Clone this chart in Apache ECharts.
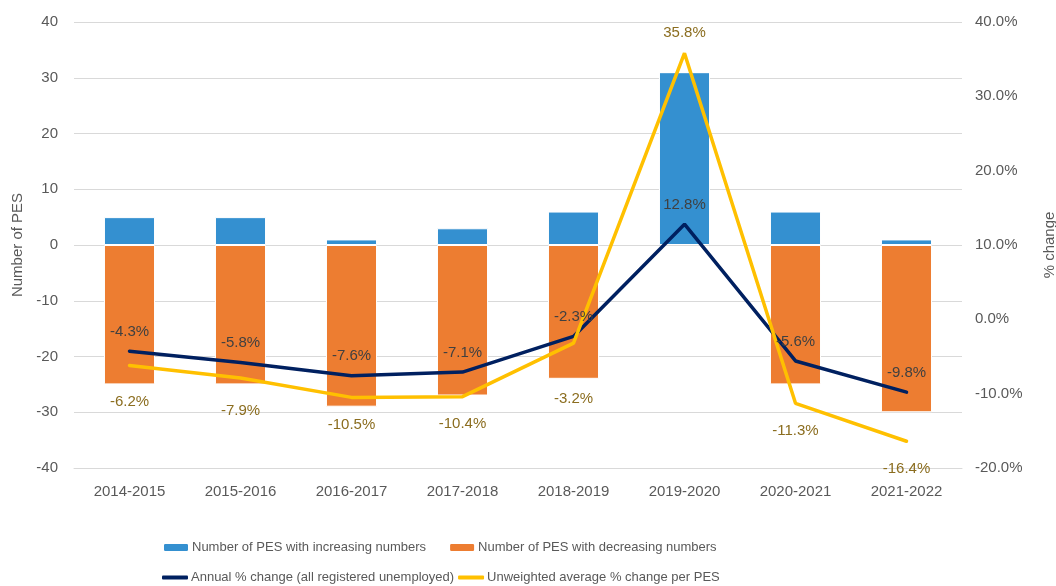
<!DOCTYPE html>
<html>
<head>
	<meta charset="utf-8" />
	<title>PES numbers</title>
	<style>
		* { margin: 0; padding: 0; }
		#main { width: 1056px; height: 586px; }
	</style>
</head>
<body>
	<div id="main"></div>
	<script src="https://cdn.jsdelivr.net/npm/echarts@6/dist/echarts.min.js"></script>
	<script>
		// data
		var years = ['2014-2015', '2015-2016', '2016-2017', '2017-2018', '2018-2019', '2019-2020', '2020-2021', '2021-2022'];
		var increasing = [5, 5, 1, 3, 6, 31, 6, 1];
		var decreasing = [-25, -25, -29, -27, -24, 0, -25, -30];
		var annualChange = [-4.3, -5.8, -7.6, -7.1, -2.3, 12.8, -5.6, -9.8];
		var avgChange = [-6.2, -7.9, -10.5, -10.4, -3.2, 35.8, -11.3, -16.4];

		var font = 'Liberation Sans';
		var tickColor = '#595959';

		var chart = echarts.init(document.getElementById('main'));

		// yellow labels sit under the line (a few were nudged in the original), the peak goes on top
		var avgLabelGap = { 0: 29, 1: 25, 4: 48 };
		var avgData = avgChange.map(function (v, i) {
			if (v > 30) {
				return { value: v, label: { position: 'top', distance: 13 } };
			}
			if (avgLabelGap[i]) {
				return { value: v, label: { distance: avgLabelGap[i] } };
			}
			return v;
		});

		function pct(p) {
			return p.value.toFixed(1) + '%';
		}

		var legendText = { fontFamily: font, fontSize: 13, color: tickColor, padding: [0, 0, 0, -2] };

		var option = {
			animation: false,
			textStyle: { fontFamily: font },
			grid: { left: 74, right: 94, top: 22, bottom: 118, outerBoundsMode: 'none' },
			legend: [
				{
					left: 157, top: 536,
					itemWidth: 26, itemHeight: 9, itemGap: 22,
					textStyle: legendText,
					data: ['Number of PES with increasing numbers', 'Number of PES with decreasing numbers']
				},
				{
					left: 157, top: 566,
					itemWidth: 26, itemHeight: 4, itemGap: 4,
					icon: 'roundRect',
					textStyle: legendText,
					data: ['Annual % change (all registered unemployed)', 'Unweighted average % change per PES']
				}
			],
			xAxis: {
				type: 'category',
				data: years,
				axisTick: { show: false },
				axisLine: { onZero: false, lineStyle: { color: '#d9d9d9' } },
				axisLabel: { color: tickColor, fontSize: 15, margin: 16 }
			},
			yAxis: [
				{
					type: 'value',
					min: -40, max: 40, interval: 10,
					name: 'Number of PES',
					nameLocation: 'middle',
					nameGap: 48,
					nameTextStyle: { color: tickColor, fontSize: 15 },
					axisLabel: { color: tickColor, fontSize: 15, margin: 16 },
					splitLine: { lineStyle: { color: '#d9d9d9', width: 1 } },
					axisLine: { show: false },
					axisTick: { show: false }
				},
				{
					type: 'value',
					min: -20, max: 40, interval: 10,
					name: '% change',
					nameLocation: 'middle',
					nameRotate: 90,
					nameGap: 80,
					nameTextStyle: { color: tickColor, fontSize: 15 },
					axisLabel: {
						color: tickColor, fontSize: 15, margin: 13,
						formatter: function (v) { return v.toFixed(1) + '%'; }
					},
					splitLine: { show: false },
					axisLine: { show: false },
					axisTick: { show: false }
				}
			],
			series: [
				{
					name: 'Number of PES with increasing numbers',
					type: 'bar',
					stack: 'pes',
					barWidth: '46%',
					data: increasing,
					itemStyle: { color: '#3490d0', borderColor: '#fff', borderWidth: 1 }
				},
				{
					name: 'Number of PES with decreasing numbers',
					type: 'bar',
					stack: 'pes',
					barWidth: '46%',
					data: decreasing,
					itemStyle: { color: '#ed7d31', borderColor: '#fff', borderWidth: 1 }
				},
				{
					name: 'Annual % change (all registered unemployed)',
					type: 'line',
					yAxisIndex: 1,
					data: annualChange,
					symbol: 'circle',
					symbolSize: 0,
					showSymbol: true,
					lineStyle: { color: '#002060', width: 3.5, cap: 'round' },
					itemStyle: { color: '#002060' },
					label: {
						show: true, position: 'top', distance: 12,
						color: '#404040', fontSize: 15,
						formatter: pct
					}
				},
				{
					name: 'Unweighted average % change per PES',
					type: 'line',
					yAxisIndex: 1,
					data: avgData,
					symbol: 'circle',
					symbolSize: 0,
					showSymbol: true,
					lineStyle: { color: '#ffc000', width: 3.5, cap: 'round' },
					itemStyle: { color: '#ffc000' },
					label: {
						show: true, position: 'bottom', distance: 20,
						color: '#8b6d1f', fontSize: 15,
						formatter: pct
					}
				}
			]
		};
		chart.setOption(option);
	</script>
</body>
</html>
